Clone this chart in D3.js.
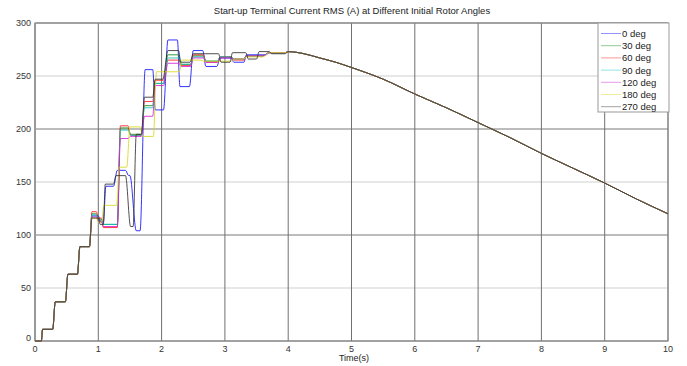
<!DOCTYPE html>
<html>
<head>
<script src="https://d3js.org/d3.v7.min.js"></script>
<style>
  body { margin: 0; background: #fff; font-family: Arial, "Liberation Sans", sans-serif; }
</style>
</head>
<body>
<div id="chart"></div>
<script>
// ---- data ----
var xTicks = [0, 1, 2, 3, 4, 5, 6, 7, 8, 9, 10];
var yTicks = [0, 50, 100, 150, 200, 250, 300];
var seriesNames = ["0 deg", "30 deg", "60 deg", "90 deg", "120 deg", "180 deg", "270 deg"];
var seriesColors = ["#1010ff", "#108a10", "#ff1a1a", "#10c0c0", "#d020d0", "#d8d820", "#303030"];

// plateaus: [start time, end time, current]
var riseSteps = [[0, 0.1, 0], [0.12, 0.28, 11], [0.32, 0.48, 37], [0.52, 0.67, 63], [0.71, 0.86, 89]];

var deg0 = [[0.9, 1.0, 118], [1.04, 1.08, 112], [1.12, 1.24, 146], [1.3, 1.43, 161], [1.48, 1.5, 156],
  [1.6, 1.66, 104], [1.74, 1.86, 256], [1.9, 2.03, 218], [2.1, 2.25, 284], [2.29, 2.44, 240],
  [2.5, 2.65, 274], [2.7, 2.87, 259], [2.93, 3.1, 267], [3.14, 3.3, 263], [3.34, 3.65, 270], [3.7, 3.95, 272]];
var deg30 = [[0.9, 0.97, 120], [1.0, 1.05, 115], [1.08, 1.3, 110], [1.35, 1.47, 201], [1.51, 1.68, 195],
  [1.73, 1.86, 222], [1.9, 2.03, 243], [2.1, 2.27, 270], [2.31, 2.46, 261], [2.5, 2.66, 269],
  [2.7, 2.88, 264], [2.93, 3.1, 268], [3.14, 3.3, 266], [3.34, 3.6, 269], [3.7, 3.95, 272]];
var deg60 = [[0.9, 0.97, 122], [1.0, 1.05, 116], [1.08, 1.3, 107], [1.35, 1.47, 203], [1.51, 1.68, 194],
  [1.73, 1.86, 226], [1.9, 2.03, 246], [2.1, 2.27, 265], [2.31, 2.46, 260], [2.5, 2.66, 270],
  [2.7, 2.88, 263], [2.93, 3.1, 268], [3.14, 3.3, 265], [3.34, 3.6, 269], [3.7, 3.95, 272]];
var deg90 = [[0.9, 0.97, 119], [1.0, 1.05, 114], [1.08, 1.3, 110], [1.35, 1.47, 199], [1.51, 1.68, 194],
  [1.73, 1.86, 220], [1.9, 2.03, 243], [2.1, 2.27, 267], [2.31, 2.46, 261], [2.5, 2.66, 268],
  [2.7, 2.88, 264], [2.93, 3.1, 268], [3.14, 3.3, 266], [3.34, 3.6, 269], [3.7, 3.95, 272]];
var deg120 = [[0.9, 0.97, 117], [1.0, 1.05, 113], [1.08, 1.3, 108], [1.35, 1.47, 191], [1.51, 1.68, 193],
  [1.73, 1.86, 212], [1.9, 2.03, 241], [2.1, 2.27, 262], [2.31, 2.46, 259], [2.5, 2.66, 267],
  [2.7, 2.88, 263], [2.93, 3.1, 267], [3.14, 3.3, 266], [3.34, 3.6, 269], [3.7, 3.95, 272]];
var deg180 = [[0.9, 0.97, 116], [1.0, 1.05, 112], [1.09, 1.29, 128], [1.33, 1.45, 164], [1.5, 1.66, 202],
  [1.7, 1.87, 193], [1.92, 2.28, 254], [2.32, 2.62, 265], [2.66, 2.9, 264], [2.94, 3.1, 264],
  [3.14, 3.3, 266], [3.34, 3.6, 268], [3.7, 3.95, 272]];
var deg270 = [[0.9, 1.0, 116], [1.03, 1.08, 110], [1.11, 1.24, 148], [1.28, 1.43, 156], [1.51, 1.55, 108],
  [1.6, 1.68, 195], [1.73, 1.86, 230], [1.9, 2.02, 247], [2.1, 2.27, 274], [2.3, 2.45, 263],
  [2.5, 2.66, 271], [2.7, 2.9, 271], [2.94, 3.08, 263], [3.12, 3.33, 272], [3.37, 3.5, 266],
  [3.54, 3.7, 273], [3.74, 3.95, 271]];

// common slow decay after the start-up
var tailPoints = [[4.0, 273], [4.25, 271], [4.5, 267], [4.75, 263], [5, 258], [5.5, 247], [6, 233],
  [6.5, 220], [7, 206], [7.5, 192], [8, 177], [8.5, 163], [9, 149], [9.5, 134], [10, 120]];

var middles = [deg0, deg30, deg60, deg90, deg120, deg180, deg270];

// ---- layout ----
var width = 687, height = 366;
var pLeft = 35, pRight = 668, pTop = 23, pBottom = 341;

var svg = d3.select("#chart").append("svg")
  .attr("width", width).attr("height", height);

var x = d3.scaleLinear().domain([0, 10]).range([pLeft, pRight]);
var y = d3.scaleLinear().domain([0, 300]).range([pBottom, pTop]);

// grid
svg.append("g").selectAll("line").data(yTicks).enter().append("line")
  .attr("x1", pLeft).attr("x2", pRight)
  .attr("y1", function(d) { return y(d); }).attr("y2", function(d) { return y(d); })
  .attr("stroke", function(d) { return d % 100 === 0 ? "#7a7a7a" : "#cfcfcf"; })
  .attr("stroke-width", function(d) { return d % 100 === 0 ? 1.2 : 1; });

svg.append("g").selectAll("line").data(xTicks).enter().append("line")
  .attr("y1", pTop).attr("y2", pBottom)
  .attr("x1", function(d) { return x(d); }).attr("x2", function(d) { return x(d); })
  .attr("stroke", "#707070").attr("stroke-width", 1);

svg.append("rect").attr("x", pLeft).attr("y", pTop)
  .attr("width", pRight - pLeft).attr("height", pBottom - pTop)
  .attr("fill", "none").attr("stroke", "#888").attr("stroke-width", 1);
svg.append("line").attr("x1", pLeft).attr("x2", pLeft).attr("y1", pTop).attr("y2", pBottom)
  .attr("stroke", "#999").attr("stroke-width", 2);

// axes tick labels
svg.append("g").selectAll("text").data(xTicks).enter().append("text")
  .attr("x", function(d) { return x(d); }).attr("y", 352)
  .attr("text-anchor", "middle").attr("font-size", 9).attr("fill", "#333")
  .text(function(d) { return d; });
svg.append("g").selectAll("text").data(yTicks).enter().append("text")
  .attr("x", 31).attr("y", function(d) { return y(d) + (d === 0 ? 0 : 3); })
  .attr("text-anchor", "end").attr("font-size", 9).attr("fill", "#333")
  .text(function(d) { return d; });

svg.append("text").attr("x", 354).attr("y", 361).attr("text-anchor", "middle")
  .attr("font-size", 9).attr("fill", "#222").text("Time(s)");
svg.append("text").attr("x", 352).attr("y", 14).attr("text-anchor", "middle")
  .attr("font-size", 9.5).attr("fill", "#222")
  .text("Start-up Terminal Current RMS (A) at Different Initial Rotor Angles");

// curves
function toPoints(mid) {
  var pts = [];
  riseSteps.concat(mid).forEach(function(p) {
    pts.push([p[0], p[2]]);
    if (p[1] > p[0]) pts.push([p[1], p[2]]);
  });
  return pts.concat(tailPoints);
}

var line = d3.line()
  .x(function(d) { return x(d[0]); })
  .y(function(d) { return y(d[1]); })
  .curve(d3.curveMonotoneX);

svg.append("g").selectAll("path").data(middles).enter().append("path")
  .attr("d", function(d) { return line(toPoints(d)); })
  .attr("fill", "none")
  .attr("stroke", function(d, i) { return seriesColors[i]; })
  .attr("stroke-width", 1)
  .attr("stroke-opacity", 0.85);

// legend
var lg = svg.append("g");
lg.append("rect").attr("x", 598).attr("y", 23).attr("width", 71).attr("height", 89)
  .attr("fill", "#fff").attr("stroke", "#999").attr("stroke-width", 1);
var rows = lg.selectAll("g").data(seriesNames).enter().append("g")
  .attr("transform", function(d, i) { return "translate(0," + (33.5 + i * 12.2) + ")"; });
rows.append("line").attr("x1", 601).attr("x2", 621).attr("y1", 0).attr("y2", 0)
  .attr("stroke", function(d, i) { return seriesColors[i]; })
  .attr("stroke-opacity", 0.45).attr("stroke-width", 1);
rows.append("text").attr("x", 622).attr("y", 3.5).attr("font-size", 9.5).attr("fill", "#222")
  .text(function(d) { return d; });
</script>
</body>
</html>
